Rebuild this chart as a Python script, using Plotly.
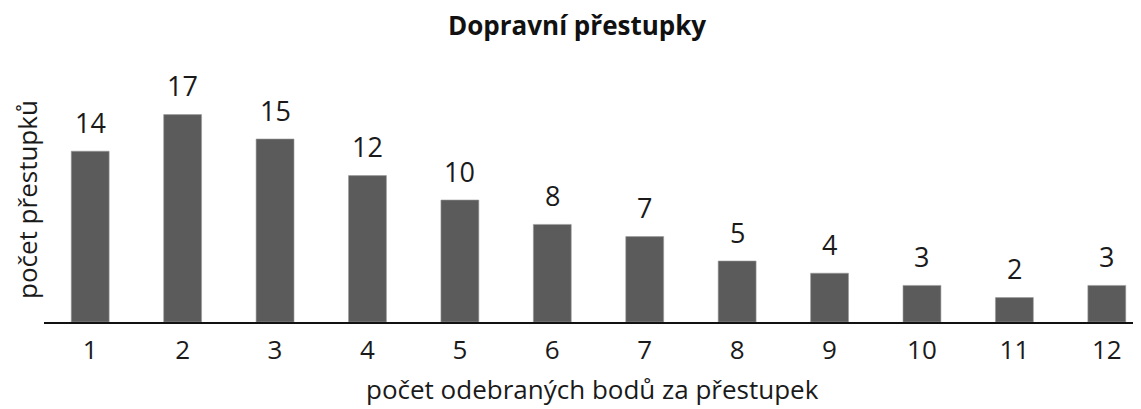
import plotly.graph_objects as go

categories = ["1", "2", "3", "4", "5", "6", "7", "8", "9", "10", "11", "12"]
values = [14, 17, 15, 12, 10, 8, 7, 5, 4, 3, 2, 3]
title_text = "Dopravní přestupky"
x_title = "počet odebraných bodů za přestupek"
y_title = "počet přestupků"

FONT = "Open Sans"
TXT = "#1a1a1a"

fig = go.Figure()
fig.add_trace(go.Bar(
    x=list(range(len(categories))), y=values,
    marker=dict(color="#5b5b5b", line=dict(color="#9a9a9a", width=0.6)),
    width=0.41, hoverinfo="skip",
))

annotations = []
for i, v in enumerate(values):
    annotations.append(dict(x=i, y=v, xref="x", yref="y", text=str(v), showarrow=False,
                            yanchor="middle", yshift=29,
                            font=dict(family=FONT, size=27, color=TXT)))
annotations.append(dict(x=0.486, y=1, xref="paper", yref="paper", text="<b>" + title_text + "</b>",
                        showarrow=False, yanchor="middle", yshift=53,
                        font=dict(family=FONT, size=26, color="#111111")))
annotations.append(dict(x=0.5, y=0, xref="paper", yref="paper", text=x_title,
                        showarrow=False, yanchor="middle", yshift=-67,
                        font=dict(family=FONT, size=26, color=TXT)))
annotations.append(dict(x=0, y=0.5, xref="paper", yref="paper", text=y_title, textangle=-90,
                        showarrow=False, xanchor="center", xshift=-17, borderpad=0,
                        font=dict(family=FONT, size=26, color=TXT)))

fig.update_layout(
    width=1133, height=401,
    margin=dict(l=36, r=0, t=70, b=87),
    paper_bgcolor="white", plot_bgcolor="white",
    showlegend=False,
    annotations=annotations,
    xaxis=dict(
        tickmode="array", tickvals=list(range(len(categories))), ticktext=categories,
        range=[-0.5, 11.37], showgrid=False, zeroline=False,
        showline=True, linecolor="#111111", linewidth=1.5,
        ticks="", ticklabelstandoff=4,
        tickfont=dict(family=FONT, size=26, color=TXT),
        fixedrange=True,
    ),
    yaxis=dict(range=[0, 20], showgrid=False, zeroline=False, showline=False,
               showticklabels=False, ticks="", fixedrange=True),
)

fig.write_html("out.html")
